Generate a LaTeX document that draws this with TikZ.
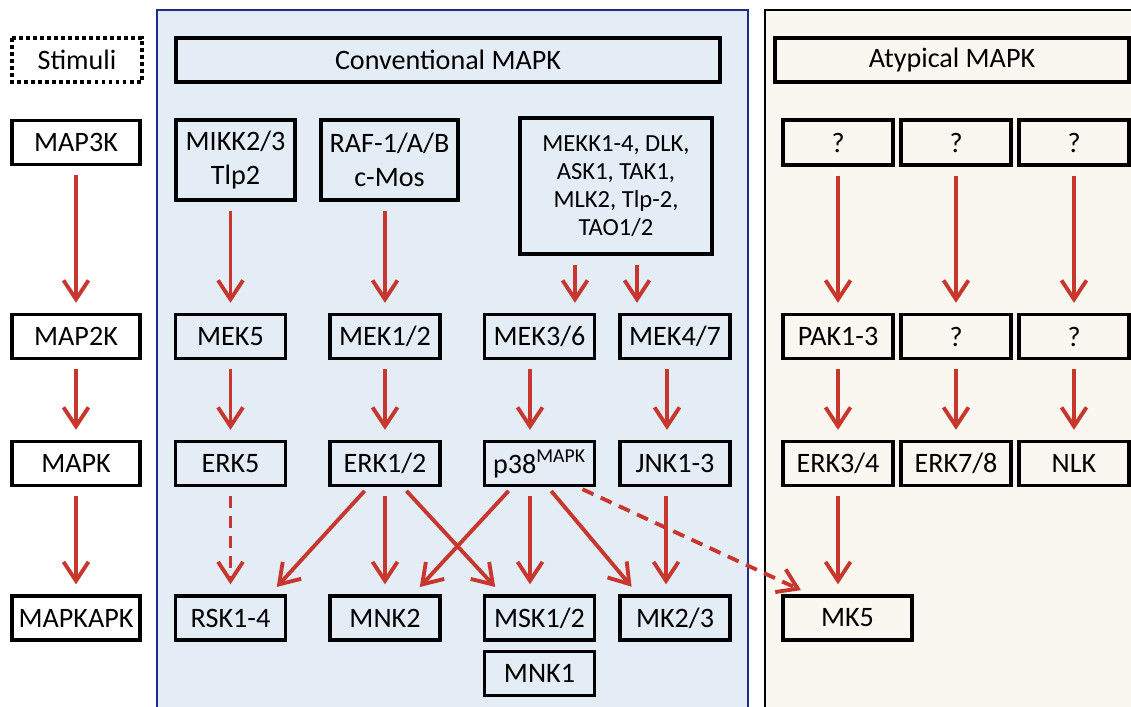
\documentclass[tikz,border=0pt]{standalone}
\usepackage{fontspec}
\setmainfont{Carlito}
\usetikzlibrary{arrows.meta,positioning}
\definecolor{mapkRed}{HTML}{C8372D}
\definecolor{convFill}{HTML}{E4ECF6}
\definecolor{convLine}{HTML}{1F2D8A}
\definecolor{atypFill}{HTML}{F9F7F0}

\begin{document}
\begin{tikzpicture}[x=0.02cm, y=-0.02cm,
    lvlBox/.style={rectangle, draw=black, fill=white, line width=1.9pt, minimum width=2.56cm, minimum height=0.88cm, font=\fontsize{16}{19}\selectfont},
    kinBox/.style={rectangle, draw=black, line width=1.9pt, minimum width=2.2cm, minimum height=0.88cm, inner sep=1pt, align=center, font=\fontsize{16}{19}\selectfont},
    flow/.style={-{Straight Barb[length=3.8mm,width=5mm]}, line width=2.2pt, draw=mapkRed, shorten <=0.18cm, shorten >=0.2cm},
    flowDash/.style={flow, dash pattern=on 2.4mm off 1.6mm}
  ]
  \useasboundingbox (0,0) rectangle (1131,706);
  \clip (0,0) rectangle (1131,706);

  % panels
  \draw[draw=convLine, fill=convFill, line width=1.3pt] (157,10) rectangle (748,730);
  \draw[draw=black, fill=atypFill, line width=1.2pt] (765,10) rectangle (1160,730);

  % levels
  \node[lvlBox, draw=none] (stim) at (77,60) {Stimuli};
  \draw[line width=2pt, dash pattern=on 2.2pt off 1.8pt] (12,38) rectangle (142,82);
  \node[lvlBox] (map3k) at (76,142.5) {MAP3K};
  \node[lvlBox] (map2k) at (76,336.5) {MAP2K};
  \node[lvlBox] (mapk) at (76,463.5) {MAPK};
  \node[lvlBox] (mapkapk) at (76,618) {MAPKAPK};
  \draw[flow] (map3k) -- (map2k);
  \draw[flow] (map2k) -- (mapk);
  \draw[flow] (mapk) -- (mapkapk);

  % headers
  \node[kinBox, minimum width=10.88cm] (convHdr) at (448,60) {Conventional MAPK};
  \node[kinBox, minimum width=7.08cm] (atypHdr) at (952,60) {Atypical MAPK};

  % MAP3K row
  \node[kinBox, minimum width=2.38cm, minimum height=1.6cm] (mikk) at (235.5,160) {MIKK2/3\\Tlp2};
  \node[kinBox, minimum width=2.74cm, minimum height=1.6cm] (raf) at (389.5,160) {RAF-1/A/B\\c-Mos};
  \node[kinBox, minimum width=3.84cm, minimum height=2.72cm, font=\fontsize{14}{16}\selectfont] (mekk) at (616,186) {MEKK1-4, DLK,\\ASK1, TAK1,\\MLK2, Tlp-2,\\TAO1/2};
  \node[kinBox, minimum height=0.9cm] (qa) at (838,142.5) {?};
  \node[kinBox, minimum height=0.9cm] (qb) at (956,142.5) {?};
  \node[kinBox, minimum height=0.9cm] (qc) at (1074,142.5) {?};

  % MAP2K row
  \node[kinBox] (mek5) at (230.5,336.5) {MEK5};
  \node[kinBox] (mek12) at (385,336.5) {MEK1/2};
  \node[kinBox] (mek36) at (539.5,336.5) {MEK3/6};
  \node[kinBox] (mek47) at (675,336.5) {MEK4/7};
  \node[kinBox] (pak) at (838,336.5) {PAK1-3};
  \node[kinBox] (qd) at (956,336.5) {?};
  \node[kinBox] (qe) at (1074,336.5) {?};

  % MAPK row
  \node[kinBox] (erk5) at (230.5,463.5) {ERK5};
  \node[kinBox] (erk12) at (385,463.5) {ERK1/2};
  \node[kinBox] (p38) at (539.5,463.5) {p38\textsuperscript{MAPK}};
  \node[kinBox] (jnk) at (675,463.5) {JNK1-3};
  \node[kinBox] (erk34) at (838,463.5) {ERK3/4};
  \node[kinBox] (erk78) at (956,463.5) {ERK7/8};
  \node[kinBox] (nlk) at (1074,463.5) {NLK};

  % MAPKAPK row
  \node[kinBox] (rsk) at (230.5,618) {RSK1-4};
  \node[kinBox] (mnk2) at (385,618) {MNK2};
  \node[kinBox] (msk) at (539.5,618) {MSK1/2};
  \node[kinBox, below=0.16cm of msk] (mnk1) {MNK1};
  \node[kinBox] (mk23) at (675,618) {MK2/3};
  \node[kinBox, minimum width=2.58cm] (mk5) at (847.5,618) {MK5};

  % MAP3K -> MAP2K
  \draw[flow] (mikk.south -| mek5) -- (mek5);
  \draw[flow] (raf.south -| mek12) -- (mek12);
  \draw[flow] ([xshift=-0.82cm]mekk.south) -- ([xshift=-0.82cm]mekk.south |- mek36.north);
  \draw[flow] ([xshift=0.42cm]mekk.south) -- ([xshift=0.42cm]mekk.south |- mek47.north);
  \draw[flow] (qa) -- (pak);
  \draw[flow] (qb) -- (qd);
  \draw[flow] (qc) -- (qe);

  % MAP2K -> MAPK
  \draw[flow] (mek5) -- (erk5);
  \draw[flow] (mek12) -- (erk12);
  \draw[flow] ([xshift=-0.19cm]mek36.south) -- ([xshift=-0.19cm]p38.north);
  \draw[flow] ([xshift=-0.16cm]mek47.south) -- ([xshift=-0.16cm]jnk.north);
  \draw[flow] (pak) -- (erk34);
  \draw[flow] (qd) -- (erk78);
  \draw[flow] (qe) -- (nlk);

  % MAPK -> MAPKAPK
  \draw[flowDash] (erk5) -- (rsk);
  \draw[flow, shorten <=0.1cm] ([xshift=-0.34cm]erk12.south) -- ([xshift=0.79cm]rsk.north);
  \draw[flow] (erk12) -- (mnk2);
  \draw[flow, shorten <=0.1cm] ([xshift=0.36cm]erk12.south) -- ([xshift=-0.75cm]msk.north);
  \draw[flow, shorten <=0.1cm] ([xshift=-0.55cm]p38.south) -- ([xshift=0.56cm]mnk2.north);
  \draw[flow] ([xshift=-0.19cm]p38.south) -- ([xshift=-0.19cm]msk.north);
  \draw[flow, shorten <=0.1cm] ([xshift=0.17cm]p38.south) -- ([xshift=-0.74cm]mk23.north);
  \draw[flowDash, shorten <=0.1cm] ([xshift=0.77cm]p38.south) -- ([xshift=-0.75cm]mk5.north);
  \draw[flow] ([xshift=-0.18cm]jnk.south) -- ([xshift=-0.18cm]mk23.north);
  \draw[flow] (erk34) -- ([xshift=-0.19cm]mk5.north);
\end{tikzpicture}
\end{document}
